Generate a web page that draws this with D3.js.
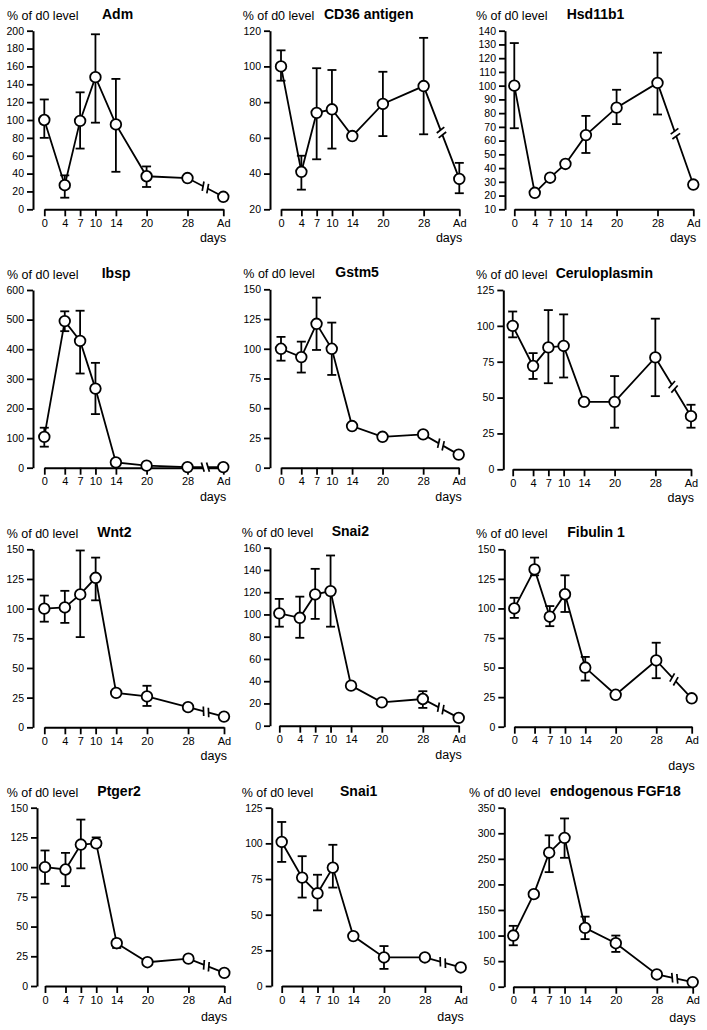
<!DOCTYPE html>
<html>
<head>
<meta charset="utf-8">
<script src="https://cdn.jsdelivr.net/npm/d3@7"></script>
<style>
  html, body { margin: 0; padding: 0; background: #fff; }
  svg { display: block; font-family: "Liberation Sans", Arial, Helvetica, sans-serif; }
</style>
</head>
<body>
<script>
// ---------- data ----------
const days = [0, 4, 7, 10, 14, 20, 28, 35];
const dayLabels = ["0", "4", "7", "10", "14", "20", "28", "Ad"];
const breakDay = 31.5;

const genes = ["Adm", "CD36 antigen", "Hsd11b1", "Ibsp", "Gstm5", "Ceruloplasmin",
               "Wnt2", "Snai2", "Fibulin 1", "Ptger2", "Snai1", "endogenous FGF18"];
const yDomains = [[0,200],[20,120],[10,140],[0,600],[0,150],[0,125],
                  [0,150],[0,160],[0,150],[0,150],[0,125],[0,350]];
const yTickSteps = [20,20,10,100,25,25,25,20,25,25,25,50];

const admMean  = [100, 27, 99, 148, 95, 37, 35, 14];
const admHi    = [123, 38, 131, 196, 146, 48, null, null];
const admLo    = [80, 13, 68, 97, 42, 25, null, null];

const cd36Mean = [100, 41, 74, 76, 61, 79, 89, 37];
const cd36Hi   = [109, 50, 99, 98, null, 97, 116, 46];
const cd36Lo   = [92, 31, 48, 54, null, 61, 62, 29];

const hsdMean  = [100, 22, 33, 43, 64, 84, 102, 28];
const hsdHi    = [131, null, null, null, 78, 97, 124, null];
const hsdLo    = [69, null, null, null, 51, 72, 79, null];

const ibspMean = [104, 495, 428, 267, 18, 7, 2, 2];
const ibspHi   = [135, 528, 530, 354, null, null, null, null];
const ibspLo   = [71, 461, 318, 181, null, null, null, null];

const gstmMean = [100, 93, 121, 100, 35, 26, 28, 11];
const gstmHi   = [110, 106, 143, 122, null, null, null, null];
const gstmLo   = [90, 80, 99, 78, null, null, null, null];

const ceruMean = [100, 72, 85, 86, 47, 47, 78, 37];
const ceruHi   = [110, 81, 111, 108, null, 65, 105, 45];
const ceruLo   = [92, 63, 60, 64, null, 29, 51, 29];

const wnt2Mean = [100, 101, 112, 126, 29, 26, 17, 9];
const wnt2Hi   = [111, 115, 149, 143, null, 35, null, null];
const wnt2Lo   = [89, 88, 76, 107, null, 18, null, null];

const snai2Mean = [101, 97, 118, 121, 36, 21, 24, 7];
const snai2Hi   = [114, 116, 141, 153, null, null, 31, null];
const snai2Lo   = [89, 79, 96, 89, null, null, 16, null];

const fibMean  = [100, 133, 93, 112, 50, 27, 56, 24];
const fibHi    = [109, 143, 102, 128, 59, null, 71, null];
const fibLo    = [92, 128, 85, 97, 39, null, 41, null];

const ptgMean  = [100, 98, 119, 120, 36, 20, 23, 11];
const ptgHi    = [114, 112, 140, 125, 39, null, null, null];
const ptgLo    = [86, 84, 99, 117, 32, null, null, null];

const snai1Mean = [101, 76, 65, 83, 35, 20, 20, 13];
const snai1Hi   = [115, 91, 78, 99, null, 28, null, null];
const snai1Lo   = [87, 62, 53, 69, null, 12, null, null];

const fgfMean  = [100, 181, 262, 291, 115, 85, 24, 9];
const fgfHi    = [119, null, 296, 329, 137, 100, null, null];
const fgfLo    = [81, null, 224, 252, 93, 68, null, null];

const means = [admMean, cd36Mean, hsdMean, ibspMean, gstmMean, ceruMean,
               wnt2Mean, snai2Mean, fibMean, ptgMean, snai1Mean, fgfMean];
const highs = [admHi, cd36Hi, hsdHi, ibspHi, gstmHi, ceruHi,
               wnt2Hi, snai2Hi, fibHi, ptgHi, snai1Hi, fgfHi];
const lows  = [admLo, cd36Lo, hsdLo, ibspLo, gstmLo, ceruLo,
               wnt2Lo, snai2Lo, fibLo, ptgLo, snai1Lo, fgfLo];

// ---------- layout (pixel frames of each panel) ----------
const layout = [
  {ax: 33,    top: 30.7,  bot: 209.3, x0: 44.3,  xAd: 223.3, tx: 102,   lx: 7,     dy: 33},
  {ax: 270,   top: 30.7,  bot: 209.3, x0: 281,   xAd: 459.3, tx: 324,   lx: 242.7, dy: 33},
  {ax: 505,   top: 30.7,  bot: 209.3, x0: 514.3, xAd: 693.3, tx: 566.7, lx: 476,   dy: 33},
  {ax: 33,    top: 290,   bot: 467.7, x0: 44.3,  xAd: 223.3, tx: 101.7, lx: 7,     dy: 33},
  {ax: 270,   top: 289.3, bot: 467.7, x0: 281,   xAd: 458.7, tx: 335.3, lx: 243.3, dy: 33},
  {ax: 503.3, top: 290,   bot: 469.3, x0: 512.7, xAd: 691,   tx: 555.7, lx: 476,   dy: 33},
  {ax: 33,    top: 549.3, bot: 727.3, x0: 44.3,  xAd: 224,   tx: 97.3,  lx: 6.7,   dy: 33},
  {ax: 270,   top: 547.7, bot: 725.7, x0: 279.3, xAd: 458.7, tx: 331.7, lx: 241.7, dy: 33},
  {ax: 504.3, top: 549.3, bot: 726.7, x0: 514.3, xAd: 691.7, tx: 567.3, lx: 476,   dy: 43},
  {ax: 37,    top: 807.7, bot: 986,   x0: 45,    xAd: 224.3, tx: 97.3,  lx: 6.7,   dy: 35},
  {ax: 271.7, top: 807.7, bot: 986,   x0: 281.7, xAd: 460.7, tx: 340,   lx: 241.7, dy: 35},
  {ax: 504.3, top: 807.7, bot: 986.7, x0: 513.3, xAd: 692.7, tx: 550,   lx: 469,   dy: 35}
];

const svg = d3.select("body").append("svg")
  .attr("width", 707).attr("height", 1030);

genes.forEach((gene, i) => {
  const L = layout[i];
  const dom = yDomains[i];
  const step = yTickSteps[i];
  const y = d3.scaleLinear().domain(dom).range([L.bot, L.top]);
  const x = d3.scaleLinear().domain([0, 35]).range([L.x0, L.xAd]);
  const g = svg.append("g");

  // y axis
  const yAxis = d3.axisLeft(y)
    .tickValues(d3.range(dom[0], dom[1] + step / 2, step))
    .tickSize(6).tickSizeOuter(0).tickPadding(3);
  const ya = g.append("g").attr("transform", `translate(${L.ax},0)`).call(yAxis);
  ya.select(".domain").attr("stroke", "#000").attr("stroke-width", 2);
  ya.selectAll(".tick line").attr("stroke", "#000").attr("stroke-width", 1.8);
  ya.selectAll(".tick text").attr("fill", "#000")
    .style("font-size", "10.5px").style("font-family", "'Liberation Sans', Arial, sans-serif");

  // x axis
  const xAxis = d3.axisBottom(x)
    .tickValues(days).tickFormat((d, j) => dayLabels[j])
    .tickSize(7).tickSizeOuter(0).tickPadding(3);
  const xa = g.append("g").attr("transform", `translate(0,${L.bot})`).call(xAxis);
  xa.select(".domain").attr("stroke", "#000").attr("stroke-width", 2);
  xa.selectAll(".tick line").attr("stroke", "#000").attr("stroke-width", 1.8);
  xa.selectAll(".tick text").attr("fill", "#000")
    .style("font-size", "11px").style("font-family", "'Liberation Sans', Arial, sans-serif");

  // labels
  g.append("text").attr("x", L.lx).attr("y", L.top - 11)
    .style("font-size", "12.5px").attr("fill", "#000").text("% of d0 level");
  g.append("text").attr("x", L.tx).attr("y", L.top - 12)
    .style("font-size", "14px").style("font-weight", "bold").attr("fill", "#000").text(gene);
  g.append("text").attr("x", L.xAd + 3).attr("y", L.bot + L.dy)
    .attr("text-anchor", "end").style("font-size", "12.5px").attr("fill", "#000").text("days");

  const m = means[i], hi = highs[i], lo = lows[i];
  const pts = days.map((d, j) => ({d, v: m[j], hi: hi[j], lo: lo[j]}));

  // error bars
  const eb = pts.filter(p => p.hi !== null || p.lo !== null);
  const cap = 4.5;
  eb.forEach(p => {
    const cx = x(p.d);
    const yh = p.hi !== null ? y(p.hi) : y(p.v);
    const yl = p.lo !== null ? y(p.lo) : y(p.v);
    g.append("line").attr("x1", cx).attr("x2", cx).attr("y1", yh).attr("y2", yl)
      .attr("stroke", "#000").attr("stroke-width", 1.8);
    if (p.hi !== null) g.append("line").attr("x1", cx - cap).attr("x2", cx + cap)
      .attr("y1", yh).attr("y2", yh).attr("stroke", "#000").attr("stroke-width", 1.8);
    if (p.lo !== null) g.append("line").attr("x1", cx - cap).attr("x2", cx + cap)
      .attr("y1", yl).attr("y2", yl).attr("stroke", "#000").attr("stroke-width", 1.8);
  });

  // data line
  g.append("path").datum(pts)
    .attr("d", d3.line().x(p => x(p.d)).y(p => y(p.v)))
    .attr("fill", "none").attr("stroke", "#000").attr("stroke-width", 1.8);

  // axis break on the line between day 28 and Ad
  const a = pts[6], b = pts[7];
  const t = (breakDay - a.d) / (b.d - a.d);
  const ax = x(a.d), ay = y(a.v), bx = x(b.d), by = y(b.v);
  const px = ax + (bx - ax) * t, py = ay + (by - ay) * t;
  const len = Math.hypot(bx - ax, by - ay);
  const ux = (bx - ax) / len, uy = (by - ay) / len;   // along segment
  const rot = -0.3;                                     // slant of marks
  const nx0 = -uy, ny0 = ux;                            // perpendicular
  const nx = nx0 * Math.cos(rot) - ny0 * Math.sin(rot);
  const ny = nx0 * Math.sin(rot) + ny0 * Math.cos(rot);
  g.append("line")
    .attr("x1", px - ux * 2.4).attr("y1", py - uy * 2.4)
    .attr("x2", px + ux * 2.4).attr("y2", py + uy * 2.4)
    .attr("stroke", "#fff").attr("stroke-width", 6);
  [-2.6, 2.6].forEach(o => {
    const cx = px + ux * o, cy = py + uy * o;
    g.append("line")
      .attr("x1", cx - nx * 4.8).attr("y1", cy - ny * 4.8)
      .attr("x2", cx + nx * 4.8).attr("y2", cy + ny * 4.8)
      .attr("stroke", "#000").attr("stroke-width", 1.7);
  });

  // points
  g.selectAll("circle.pt").data(pts).enter().append("circle")
    .attr("class", "pt")
    .attr("cx", p => x(p.d)).attr("cy", p => y(p.v)).attr("r", 5.3)
    .attr("fill", "#fff").attr("stroke", "#000").attr("stroke-width", 1.8);
});
</script>
</body>
</html>
